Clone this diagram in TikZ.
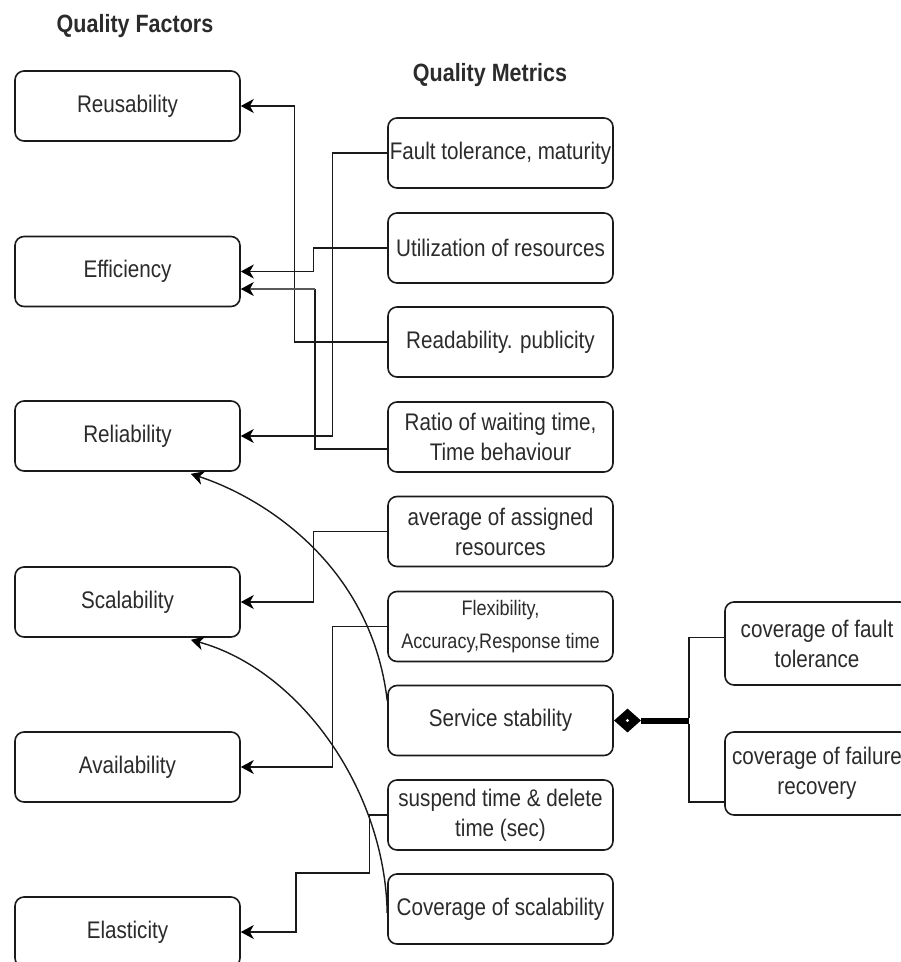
\documentclass[tikz,border=0pt]{standalone}
\usepackage{fontspec}
\setmainfont[FakeStretch=0.86]{Liberation Sans}
\usetikzlibrary{arrows.meta,calc,shapes.geometric}
\definecolor{txt}{HTML}{2B2B2B}
\definecolor{edge}{HTML}{1A1A1A}
\tikzset{
  qbox/.style={draw=edge, line width=1.6pt, rounded corners=9pt, minimum width=225pt,
    minimum height=70pt, align=center, inner sep=0pt, text=txt,
    font=\fontsize{24}{30}\selectfont},
  wbox/.style={qbox, minimum width=184pt, minimum height=83pt},
  ttl/.style={font=\bfseries\fontsize{25}{30}\selectfont, text=txt},
  link/.style={draw=edge, line width=1.4pt},
  conn/.style={link, -{Stealth[length=13pt,width=14pt,inset=4pt,color=black]}},
}
\begin{document}
\begin{tikzpicture}[x=1pt,y=-1pt]
\useasboundingbox (0,0) rectangle (901,962);
\clip (0,0) rectangle (901,962);
\fill[white] (0,0) rectangle (901,962);

\node[ttl] (tf) at (135,26) {Quality Factors};
\node[ttl] (tm) at (490,75) {Quality Metrics};

% left column
\node[qbox] (reus)  at (127.5,106) {Reusability};
\node[qbox] (eff)   at (127.5,271.5) {Efficiency};
\node[qbox] (relia) at (127.5,436) {Reliability};
\node[qbox] (scal)  at (127.5,602) {Scalability};
\node[qbox] (avail) at (127.5,767) {Availability};
\node[qbox] (elast) at (127.5,932) {Elasticity};

% metrics column
\node[qbox] (fault) at (500.5,153) {Fault tolerance, maturity};
\node[qbox] (util)  at (500.5,248) {Utilization of resources};
\node[qbox] (read)  at (500.5,342) {Readability. publicity};
\node[qbox] (ratio) at (500.5,437) {Ratio of waiting time,\\Time behaviour};
\node[qbox] (avg)   at (500.5,531.5) {average of assigned\\resources};
\node[qbox, font=\fontsize{21}{33}\selectfont] (flex) at (500.5,626.5) {Flexibility,\\Accuracy,Response time};
\node[qbox] (stab)  at (500.5,720.5) {Service stability};
\node[qbox] (susp)  at (500.5,815) {suspend time \& delete\\time (sec)};
\node[qbox] (covsc) at (500.5,909) {Coverage of scalability};

% far right
\node[wbox] (cft) at (817,643.5) {coverage of fault\\tolerance};
\node[wbox] (cfr) at (817,773.5) {coverage of failure\\recovery};

% orthogonal connectors
\draw[conn] (read.west) -- ++(-93,0) |- (reus.east);
\draw[conn] (fault.west) -- ++(-55,0) |- (relia.east);
\draw[conn] (util.west) -- ++(-74,0) |- (eff.east);
\draw[link] ($(ratio.west)+(0,12)$) -| ($(eff.east)+(74,17.5)$);
\draw[conn, draw=gray!70!black] ($(eff.east)+(74,17.5)$) -- ($(eff.east)+(0,17.5)$);
\draw[conn] (avg.west) -- ++(-74,0) |- (scal.east);
\draw[conn] (flex.west) -- ++(-55,0) |- (avail.east);
\draw[conn] (susp.west) -- ++(-18,0) -- ++(0,58) -| ($(elast.east)+(55,0)$) -- (elast.east);

% curved connectors
\draw[conn] ($(stab.west)+(0,-20)$) .. controls (372,570) and (270,500) .. ($(relia.south east)+(-50,2)$);
\draw[conn] ($(covsc.west)+(0,4)$) .. controls (385,790) and (300,670) .. ($(scal.south east)+(-50,2)$);

% aggregation connector
\node[diamond, fill=black, minimum width=27pt, minimum height=24pt, inner sep=0pt, anchor=west] (dia) at (stab.east) {};
\fill[white] (dia.center) circle (1.6pt);
\draw[draw=black, line width=6pt] (dia.east) -- ($(stab.east)+(75,0)$);
\draw[link] ($(stab.east)+(75,-3)$) |- ($(cft.west)+(0,-6)$);
\draw[link] ($(stab.east)+(75,3)$) |- ($(cfr.west)+(0,28.5)$);
\end{tikzpicture}
\end{document}
